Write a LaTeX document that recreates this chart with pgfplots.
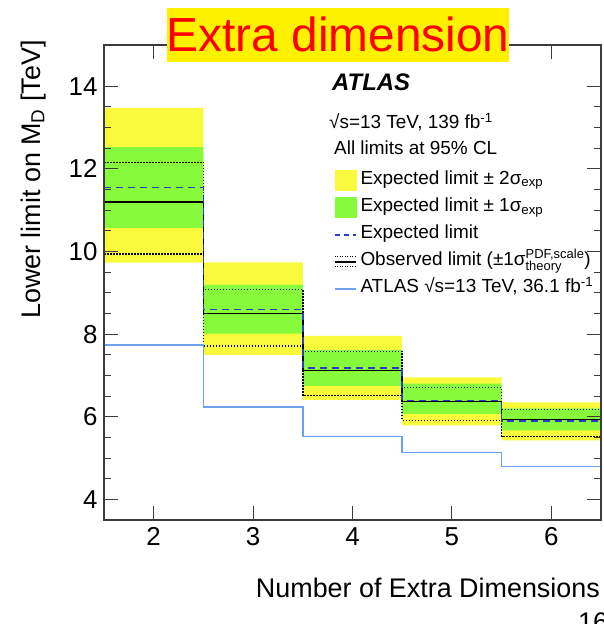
\documentclass[border=0pt]{standalone}
\usepackage{fontspec}
\setmainfont{Liberation Sans}
\usepackage{pgfplots}
\pgfplotsset{compat=1.18}
\usepackage{pgfplotstable}
\usepgfplotslibrary{fillbetween}
\definecolor{yband}{RGB}{250,250,60}
\definecolor{gband}{RGB}{135,250,60}
\definecolor{expblue}{RGB}{45,60,200}
\definecolor{oldblue}{RGB}{110,160,240}
\definecolor{frame}{RGB}{60,60,60}

\pgfplotstableread{
x   y2hi  y1hi  thhi  exp   obs   y1lo  thlo  y2lo  old
1.5 13.48 12.53 12.16 11.55 11.20 10.57 9.94  9.73  7.74
2.5 9.74  9.19  9.08  8.60  8.50  8.01  7.71  7.50  6.24
3.5 7.96  7.62  7.58  7.18  7.12  6.75  6.51  6.41  5.52
4.5 6.95  6.80  6.71  6.39  6.37  6.07  5.91  5.79  5.13
5.5 6.35  6.20  6.18  5.90  5.93  5.67  5.52  5.43  4.80
6.5 6.35  6.20  6.18  5.90  5.93  5.67  5.52  5.43  4.80
}\limitdata

\begin{document}
\begin{tikzpicture}
\begin{axis}[
  at={(104bp,104bp)}, anchor=south west,
  scale only axis, width=497bp, height=475bp,
  xmin=1.5, xmax=6.5, ymin=3.5, ymax=15,
  xtick={2,3,4,5,6}, ytick={4,6,8,10,12,14}, minor y tick num=3,
  tick align=inside, major tick length=14bp, minor tick length=7bp,
  axis on top,
  axis line style={line width=1.2bp, frame},
  every tick/.style={line width=1bp, frame},
  ticklabel style={font=\fontsize{26}{26}\selectfont, /pgf/number format/assume math mode=true},
  xticklabel style={yshift=-4bp},
  yticklabel style={xshift=-3bp},
  legend cell align=left,
  legend style={at={(rel axis cs:0.4628,0.7368)}, anchor=north west,
    draw=none, fill=none, inner sep=0pt, outer sep=0pt,
    row sep=7bp, column sep=4bp,
    font=\fontsize{19}{19}\selectfont,
    nodes={inner sep=0pt, text height=14bp, text depth=6bp}},
]
\addplot[name path=y2hi, draw=none, const plot mark left, forget plot] table[x=x,y=y2hi]{\limitdata};
\addplot[name path=y2lo, draw=none, const plot mark left, forget plot] table[x=x,y=y2lo]{\limitdata};
\addplot[yband, forget plot] fill between[of=y2hi and y2lo];
\addplot[name path=y1hi, draw=none, const plot mark left, forget plot] table[x=x,y=y1hi]{\limitdata};
\addplot[name path=y1lo, draw=none, const plot mark left, forget plot] table[x=x,y=y1lo]{\limitdata};
\addplot[gband, forget plot] fill between[of=y1hi and y1lo];

\addplot[black, line width=1.5bp, dash pattern=on 1.5bp off 1.5bp, const plot mark left, forget plot] table[x=x,y=thhi]{\limitdata};
\addplot[black, line width=1.5bp, dash pattern=on 1.5bp off 1.5bp, const plot mark left, forget plot] table[x=x,y=thlo]{\limitdata};
\addplot[black, line width=1.7bp, const plot mark left, forget plot] table[x=x,y=obs]{\limitdata};
\addplot[expblue, line width=1.5bp, dash pattern=on 7bp off 5bp, const plot mark left, forget plot] table[x=x,y=exp]{\limitdata};
\addplot[oldblue, line width=1.5bp, const plot mark left, forget plot] table[x=x,y=old]{\limitdata};

\addlegendimage{legend image code/.code={\fill[yband] (0bp,-10bp) rectangle (21bp,10bp);}}
\addlegendentry{Expected limit ± 2σ\textsubscript{exp}}
\addlegendimage{legend image code/.code={\fill[gband] (0bp,-10bp) rectangle (21bp,10bp);}}
\addlegendentry{Expected limit ± 1σ\textsubscript{exp}}
\addlegendimage{legend image code/.code={\draw[expblue, line width=1.5bp, dash pattern=on 5bp off 4bp] (0bp,0bp) -- (21bp,0bp);}}
\addlegendentry{Expected limit}
\addlegendimage{legend image code/.code={\draw[black, line width=1.5bp] (0bp,0bp) -- (21bp,0bp);
  \draw[black, line width=1.2bp, dash pattern=on 1.2bp off 1.3bp] (0bp,5bp) -- (21bp,5bp);
  \draw[black, line width=1.2bp, dash pattern=on 1.2bp off 1.3bp] (0bp,-5bp) -- (21bp,-5bp);}}
\addlegendentry{Observed limit (±1σ${}^{\mbox{\fontsize{13}{13}\selectfont PDF,scale}}_{\mbox{\fontsize{13}{13}\selectfont theory}}$)}
\addlegendimage{legend image code/.code={\draw[oldblue, line width=1.5bp] (0bp,0bp) -- (21bp,0bp);}}
\addlegendentry{ATLAS √s=13 TeV, 36.1 fb\textsuperscript{-1}}
\end{axis}

\node[anchor=base west, inner sep=0pt, font=\fontsize{24}{24}\selectfont\bfseries\itshape] at (332bp,533bp) {ATLAS};
\node[anchor=base west, inner sep=0pt, font=\fontsize{19}{19}\selectfont] at (329bp,495bp) {√s=13 TeV, 139 fb\textsuperscript{-1}};
\node[anchor=base west, inner sep=0pt, font=\fontsize{19}{19}\selectfont] at (334bp,469bp) {All limits at 95\% CL};

\node[rotate=90, anchor=base east, inner sep=0pt, font=\fontsize{27}{27}\selectfont] at (40bp,584bp) {Lower limit on M\textsubscript{D} [TeV]};
\node[anchor=base east, inner sep=0pt, font=\fontsize{27}{27}\selectfont] at (600bp,27bp) {Number of Extra Dimensions};

\begin{pgfonlayer}{axis foreground}
\node[fill=yellow, text=red, inner sep=0pt, font=\fontsize{48}{48}\selectfont, text height=43.4bp, text depth=10.2bp] at (338bp,589bp) {Extra dimension};
\end{pgfonlayer}

\node[anchor=base west, inner sep=0pt, font=\fontsize{27}{27}\selectfont] at (578bp,-7bp) {16};
\pgfresetboundingbox
\useasboundingbox (0,0) rectangle (604bp,624bp);
\end{tikzpicture}
\end{document}
